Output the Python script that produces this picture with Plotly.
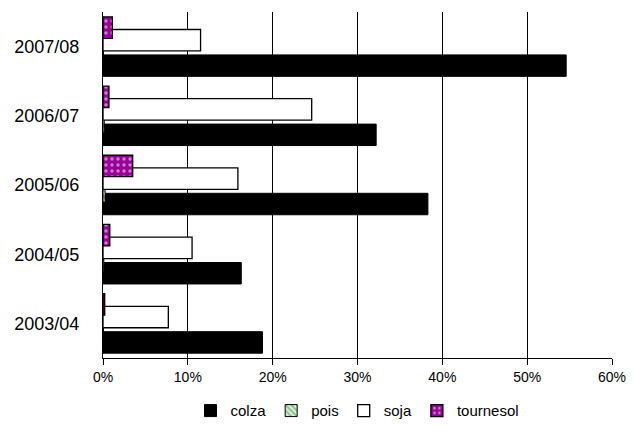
import plotly.graph_objects as go

campaigns = ["2003/04", "2004/05", "2005/06", "2006/07", "2007/08"]
colza = [18.8, 16.3, 38.3, 32.2, 54.6]
pois = [0.05, 0.1, 0.25, 0.15, 0.05]
soja = [7.7, 10.5, 15.9, 24.6, 11.5]
tournesol = [0.2, 0.8, 3.5, 0.7, 1.1]
x_ticks = [0, 10, 20, 30, 40, 50, 60]
x_tick_labels = ["0%", "10%", "20%", "30%", "40%", "50%", "60%"]

W = 0.31
fig = go.Figure()
series = [
    ("colza", colza, dict(color="black", line=dict(color="black", width=1)), -0.275),
    ("pois", pois, dict(color="white", line=dict(color="black", width=1),
                        pattern=dict(shape="\\", fgcolor="#228b22", bgcolor="white", size=5, solidity=0.7)), -0.092),
    ("soja", soja, dict(color="white", line=dict(color="black", width=1.3)), 0.092),
    ("tournesol", tournesol, dict(color="#990099", line=dict(color="black", width=1.3),
                                  pattern=dict(shape=".", fgcolor="white", bgcolor="#990099",
                                               fillmode="overlay", size=6, solidity=0.25)), 0.275),
]
for name, vals, marker, c in series:
    fig.add_trace(go.Bar(
        y=campaigns, x=vals, name=name, orientation="h",
        width=W, offset=c - W / 2, marker=marker,
    ))

fig.update_layout(
    width=618, height=423,
    barmode="overlay",
    paper_bgcolor="white", plot_bgcolor="white",
    margin=dict(l=95, r=14, t=4, b=63),
    font=dict(family="Liberation Sans, Arial, sans-serif", color="black", size=15),
    showlegend=True,
    legend=dict(orientation="h", x=0.5, xanchor="center", y=-0.105, yanchor="top",
                font=dict(size=15), traceorder="normal", itemwidth=30,
                tracegroupgap=0),
    xaxis=dict(range=[0, 60], tickvals=x_ticks, ticktext=x_tick_labels,
               showgrid=True, gridcolor="black", gridwidth=1,
               showline=True, linecolor="black", linewidth=1,
               ticks="outside", ticklen=6, tickcolor="black",
               zeroline=False, tickfont=dict(size=14), automargin=False,
               ticklabeloverflow="allow"),
    yaxis=dict(categoryorder="array", categoryarray=campaigns,
               range=[-0.5, 4.5], showline=True, linecolor="black", linewidth=1,
               showgrid=False, ticks="", ticklabelstandoff=19, automargin=False,
               tickfont=dict(size=18)),
)
fig.write_html("out.html")
